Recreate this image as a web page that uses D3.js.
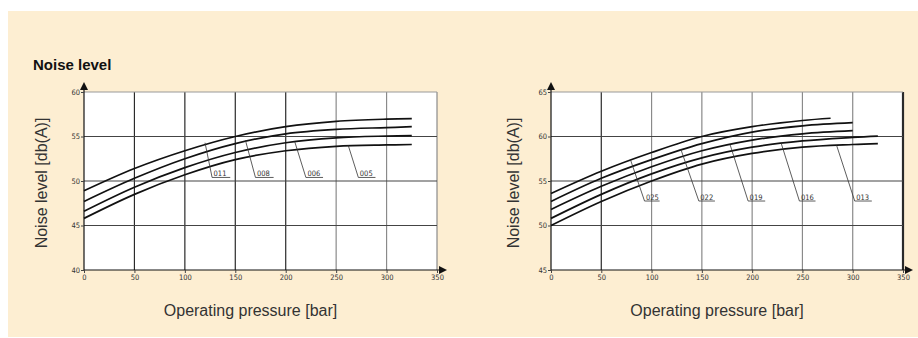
<!DOCTYPE html>
<html>
<head>
<meta charset="utf-8">
<script src="https://cdn.jsdelivr.net/npm/d3@7"></script>
<style>
  body { margin: 0; background: #fff; }
  svg { display: block; font-family: "Liberation Sans", Arial, sans-serif; }
</style>
</head>
<body>
<div id="chart"></div>
<script>
// Data
const pressureTicks = [0, 50, 100, 150, 200, 250, 300, 350];

// left chart: pump sizes 011, 008, 006, 005
const leftNames = ["011", "008", "006", "005"];
const leftPressure = [0, 50, 100, 150, 200, 250, 300, 325];
const leftNoise = [
  [48.9, 51.4, 53.4, 55.0, 56.1, 56.7, 56.95, 57.0],
  [47.7, 50.3, 52.5, 54.2, 55.3, 55.8, 56.0, 56.1],
  [46.6, 49.3, 51.5, 53.2, 54.3, 54.85, 55.05, 55.1],
  [45.8, 48.5, 50.7, 52.4, 53.4, 53.9, 54.05, 54.1]
];
const leftTicksY = [40, 45, 50, 55, 60];
// leader: [start pressure, start noise, bend pressure, noise at label, end pressure]
const leftLeaders = [
  [120, 54.3, 127, 50.4, 145],
  [160, 54.6, 170, 50.4, 188],
  [209, 54.4, 220, 50.4, 237],
  [262, 54.0, 272, 50.4, 289]
];

// right chart: pump sizes 025, 022, 019, 016, 013
const rightNames = ["025", "022", "019", "016", "013"];
const rightPressure = [
  [0, 50, 100, 150, 200, 250, 278],
  [0, 50, 100, 150, 200, 250, 300],
  [0, 50, 100, 150, 200, 250, 300],
  [0, 50, 100, 150, 200, 250, 300, 325],
  [0, 50, 100, 150, 200, 250, 300, 325]
];
const rightNoise = [
  [53.6, 56.1, 58.2, 60.0, 61.1, 61.8, 62.05],
  [52.7, 55.3, 57.4, 59.2, 60.5, 61.2, 61.55],
  [51.8, 54.4, 56.6, 58.4, 59.6, 60.3, 60.65],
  [50.8, 53.5, 55.8, 57.6, 58.8, 59.5, 59.9, 60.05],
  [50.0, 52.7, 55.0, 56.9, 58.1, 58.8, 59.1, 59.2]
];
const rightTicksY = [45, 50, 55, 60, 65];
const rightLeaders = [
  [79, 57.4, 93, 52.75, 108],
  [129, 58.6, 147, 52.75, 163],
  [178, 59.1, 196, 52.75, 213],
  [229, 59.2, 247, 52.75, 263],
  [284, 59.0, 302, 52.75, 319]
];

const W = 918, H = 338;
const svg = d3.select("#chart").append("svg").attr("width", W).attr("height", H);

svg.append("rect").attr("x", 8).attr("y", 11).attr("width", W - 8).attr("height", H - 12)
  .attr("fill", "#fdeed2");

svg.append("text").attr("x", 33).attr("y", 70)
  .style("font-size", "15px").style("font-weight", "bold").attr("fill", "#111")
  .text("Noise level");

const defs = svg.append("defs");
defs.append("marker").attr("id", "arrow")
  .attr("viewBox", "0 0 10 10").attr("refX", 0).attr("refY", 5)
  .attr("markerWidth", 8).attr("markerHeight", 8).attr("markerUnits", "userSpaceOnUse")
  .attr("orient", "auto")
  .append("path").attr("d", "M0,0L10,5L0,10Z").attr("fill", "#111");

function drawChart(opt) {
  const x = d3.scaleLinear().domain([0, 350]).range([opt.left, opt.right]);
  const y = d3.scaleLinear().domain(opt.yDomain).range([270, 92]);
  const g = svg.append("g");

  g.append("rect").attr("x", x(0)).attr("y", y(opt.yDomain[1]))
    .attr("width", x(350) - x(0)).attr("height", y(opt.yDomain[0]) - y(opt.yDomain[1]))
    .attr("fill", "#fff");

  // grid
  g.selectAll(".vg").data(pressureTicks.slice(1)).join("line")
    .attr("x1", d => x(d)).attr("x2", d => x(d))
    .attr("y1", y(opt.yDomain[0])).attr("y2", y(opt.yDomain[1]))
    .attr("stroke", d => opt.darkX.includes(d) ? "#2a2a2a" : "#8a8a8a")
    .attr("stroke-width", d => d === 350 && opt.darkX.includes(d) ? 2.2 : 1.2);
  g.selectAll(".hg").data(opt.ticksY.slice(1)).join("line")
    .attr("x1", x(0)).attr("x2", x(350))
    .attr("y1", d => y(d)).attr("y2", d => y(d))
    .attr("stroke", d => d === opt.yDomain[1] ? "#9a9a9a" : "#444")
    .attr("stroke-width", 1.2);

  // axes with arrows
  g.append("line").attr("x1", x(0)).attr("x2", x(0))
    .attr("y1", y(opt.yDomain[0])).attr("y2", y(opt.yDomain[1]) - 2)
    .attr("stroke", "#111").attr("stroke-width", 1.2).attr("marker-end", "url(#arrow)");
  g.append("line").attr("x1", x(0)).attr("x2", x(350) + 2)
    .attr("y1", y(opt.yDomain[0])).attr("y2", y(opt.yDomain[0]))
    .attr("stroke", "#111").attr("stroke-width", 1.2).attr("marker-end", "url(#arrow)");

  // ticks
  const xAxis = g.append("g").attr("transform", `translate(0,${y(opt.yDomain[0])})`)
    .call(d3.axisBottom(x).tickValues(pressureTicks).tickSize(3).tickPadding(2));
  const yAxis = g.append("g").attr("transform", `translate(${x(0)},0)`)
    .call(d3.axisLeft(y).tickValues(opt.ticksY).tickSize(3).tickPadding(1));
  [xAxis, yAxis].forEach(a => {
    a.select(".domain").remove();
    a.selectAll("line").attr("stroke", "#444");
    a.selectAll("text").attr("fill", "#333")
      .style("font-family", "'DejaVu Sans Condensed', 'Liberation Sans Narrow', sans-serif")
      .style("font-size", "7.5px");
  });

  // curves
  const line = d3.line().x(d => x(d[0])).y(d => y(d[1])).curve(d3.curveCatmullRom.alpha(0.5));
  opt.names.forEach((n, i) => {
    const px = Array.isArray(opt.pressure[0]) ? opt.pressure[i] : opt.pressure;
    const pts = px.map((p, j) => [p, opt.noise[i][j]]);
    g.append("path").attr("d", line(pts)).attr("fill", "none")
      .attr("stroke", "#111").attr("stroke-width", 1.7);
  });

  // leader lines and labels
  opt.leaders.forEach((l, i) => {
    g.append("path")
      .attr("d", `M${x(l[0])},${y(l[1])}L${x(l[2])},${y(l[3])}L${x(l[4])},${y(l[3])}`)
      .attr("fill", "none").attr("stroke", "#333").attr("stroke-width", 0.8);
    g.append("text").attr("x", x(l[2]) + 1.5).attr("y", y(l[3]) - 1.5)
      .style("font-family", "'DejaVu Sans Condensed', sans-serif")
      .style("font-size", "7.5px").attr("fill", "#333")
      .text(opt.names[i]);
  });

  // axis titles
  g.append("text").attr("transform", `translate(${opt.yLabelX},183) rotate(-90)`)
    .attr("text-anchor", "middle").attr("dominant-baseline", "middle")
    .style("font-size", "16px").attr("fill", "#333").text("Noise level [db(A)]");
  g.append("text").attr("x", (x(0) + x(350)) / 2 - 10).attr("y", 316)
    .attr("text-anchor", "middle")
    .style("font-size", "16px").attr("fill", "#333").text("Operating pressure [bar]");
}

drawChart({
  left: 84, right: 437, yDomain: [40, 60], ticksY: leftTicksY,
  names: leftNames, pressure: leftPressure, noise: leftNoise, leaders: leftLeaders,
  darkX: [50, 100, 150, 200], yLabelX: 43
});
drawChart({
  left: 551, right: 903, yDomain: [45, 65], ticksY: rightTicksY,
  names: rightNames, pressure: rightPressure, noise: rightNoise, leaders: rightLeaders,
  darkX: [50, 350], yLabelX: 515
});
</script>
</body>
</html>
